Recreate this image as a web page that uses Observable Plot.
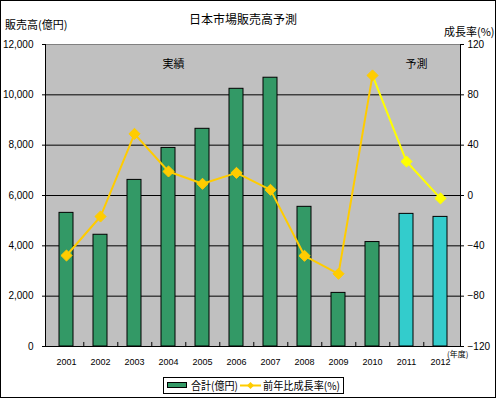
<!DOCTYPE html>
<html>
<head>
<meta charset="utf-8">
<script src="https://cdn.jsdelivr.net/npm/d3@7"></script>
<script src="https://cdn.jsdelivr.net/npm/@observablehq/plot@0.6"></script>
<style>
  html, body { margin: 0; padding: 0; background: #fff; }
  #wrap { position: relative; width: 496px; height: 399px; overflow: hidden;
          font-family: "Noto Sans CJK JP", "Noto Sans", sans-serif; color: #000; }
  #frame { position: absolute; left: 0; top: 0; width: 494px; height: 396px; border: 1px solid #000; }
  #chart { position: absolute; left: 0; top: 0; }
  .t { position: absolute; white-space: nowrap; line-height: 1; }
  #legend { position: absolute; left: 163px; top: 377px; width: 179px; height: 15px;
            border: 1px solid #000; background: #fff; font-size: 11px; }
</style>
</head>
<body>
<div id="wrap">
  <div id="frame"></div>
  <div id="chart"></div>
  <div class="t" id="title" style="left:189px;top:13px;font-size:12px;">日本市場販売高予測</div>
  <div class="t" id="ylab" style="left:5px;top:19px;font-size:11px;">販売高(億円)</div>
  <div class="t" id="y2lab" style="left:444px;top:26px;font-size:11px;">成長率(%)</div>
  <div class="t" id="xunit" style="left:447px;top:350px;font-size:8px;">(年度)</div>
  <div id="legend"></div>
</div>
<script>
// ---- data ----
const years = ["2001","2002","2003","2004","2005","2006","2007","2008","2009","2010","2011","2012"];
const sales = [5310, 4440, 6620, 7890, 8650, 10240, 10680, 5550, 2130, 4150, 5270, 5150]; // 億円
const growth = [-47.7, -16.7, 49.0, 19.1, 9.3, 18.0, 4.5, -47.9, -62.2, 95.4, 27.0, -2.3]; // %
const isForecast = [false,false,false,false,false,false,false,false,false,false,true,true];
const leftTicks = [0, 2000, 4000, 6000, 8000, 10000, 12000];
const rightTicks = [-120, -80, -40, 0, 40, 80, 120];
const gridTicks = [2000, 4000, 6000, 8000, 10000];
const seriesNames = ["合計(億円)", "前年比成長率(%)"];

// right axis (-120..120) mapped onto left axis (0..12000)
const toLeft = v => (v + 120) * 12000 / 240;
const fromLeft = d => Math.round(d * 240 / 12000 - 120);

const rows = years.map((y, i) => ({year: y, sales: sales[i], growth: growth[i], g: toLeft(growth[i]), forecast: isForecast[i]}));
const actualLine = rows.filter(d => !d.forecast);
const forecastLine = rows.filter((d, i) => i >= 9);

const green = "#339966", cyan = "#33CCCC", gold = "#FFCC00", yellow = "#FFFF00";
const font = "Liberation Sans, Arial, sans-serif";

const chart = Plot.plot({
  width: 496,
  height: 399,
  marginLeft: 45,
  marginRight: 36,
  marginTop: 44,
  marginBottom: 53,
  style: {background: "transparent", fontFamily: font, overflow: "visible"},
  x: {domain: years, paddingInner: 0.6, paddingOuter: 0.3},
  y: {domain: [0, 12000]},
  marks: [
    Plot.frame({fill: "#C0C0C0", stroke: null}),
    Plot.ruleY(gridTicks, {stroke: "#000", strokeWidth: 1}),
    Plot.frame({anchor: "top", stroke: "#808080"}),
    Plot.barY(rows, {x: "year", y: "sales", fill: d => d.forecast ? cyan : green, stroke: "#000", strokeWidth: 1}),
    Plot.ruleX(years.slice(0, 11), {x: d => d, y1: 0, y2: 160, dx: 415 / 24, stroke: "#000"}),
    Plot.frame({anchor: "left", stroke: "#000"}),
    Plot.frame({anchor: "right", stroke: "#000"}),
    Plot.frame({anchor: "bottom", stroke: "#000"}),
    Plot.line(actualLine, {x: "year", y: "g", stroke: gold, strokeWidth: 2}),
    Plot.line(forecastLine, {x: "year", y: "g", stroke: yellow, strokeWidth: 2}),
    Plot.dot(rows, {x: "year", y: "g", symbol: "diamond2", r: 5,
      fill: d => d.forecast ? yellow : gold, stroke: d => d.forecast ? yellow : gold, strokeWidth: 1}),
    Plot.text(["実績"], {x: () => "2004", y: () => 11200, dx: 5, text: d => d, fontSize: 11, fontFamily: "Noto Sans CJK JP", fill: "#000"}),
    Plot.text(["予測"], {x: () => "2011", y: () => 11200, dx: 10, text: d => d, fontSize: 11, fontFamily: "Noto Sans CJK JP", fill: "#000"}),
    Plot.axisY({anchor: "left", ticks: leftTicks, tickFormat: d3.format(","), tickSize: 3, tickPadding: 9, label: null, fontSize: 10}),
    Plot.axisY({anchor: "right", ticks: leftTicks, tickFormat: d => String(fromLeft(d)).replace("-", "−"), tickSize: 3, tickPadding: 4, label: null, fontSize: 10}),
    Plot.axisX({tickSize: 0, tickPadding: 12, label: null, fontSize: 9})
  ]
});
document.getElementById("chart").appendChild(chart);

// legend
const lg = document.getElementById("legend");
lg.innerHTML = `
<svg width="179" height="15" style="position:absolute;left:0;top:0;overflow:visible">
  <rect x="3.5" y="4.5" width="19" height="5" fill="${green}" stroke="#000"/>
  <text x="27" y="11.5" font-size="11" font-family="Noto Sans CJK JP" textLength="47" lengthAdjust="spacingAndGlyphs">${seriesNames[0]}</text>
  <line x1="76" x2="97" y1="7.5" y2="7.5" stroke="${gold}" stroke-width="2"/>
  <path d="M86.5,4 L90,7.5 L86.5,11 L83,7.5 Z" fill="${gold}"/>
  <text x="99" y="11.5" font-size="11" font-family="Noto Sans CJK JP" textLength="77" lengthAdjust="spacingAndGlyphs">${seriesNames[1]}</text>
</svg>`;
</script>
</body>
</html>
